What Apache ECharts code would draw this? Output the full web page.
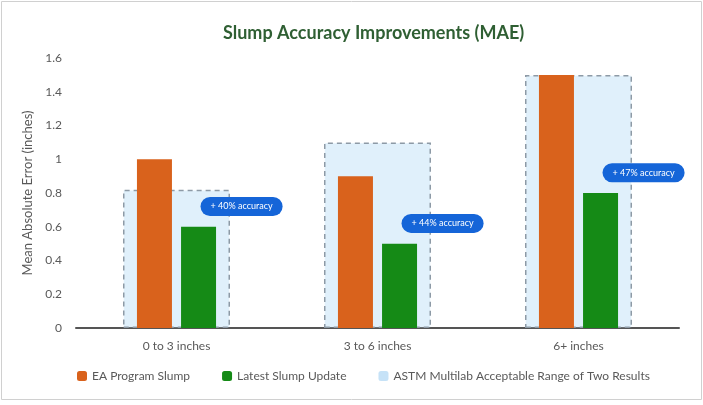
<!DOCTYPE html>
<html>
<head>
<meta charset="utf-8">
<script src="https://cdn.jsdelivr.net/npm/echarts@6/dist/echarts.min.js"></script>
<style>html,body{margin:0;padding:0;background:#fff}#main{width:703px;height:405px}</style>
</head>
<body>
<div id="main"></div>
<script>
var categories = ['0 to 3 inches', '3 to 6 inches', '6+ inches'];
var eaProgram = [1.0, 0.9, 1.5];
var latestUpdate = [0.6, 0.5, 0.8];
var astmRange = [0.82, 1.1, 1.5];
var badgeLevel = [0.72, 0.62, 0.92];
var badgeText = ['+ 40% accuracy', '+ 44% accuracy', '+ 47% accuracy'];

var chart = echarts.init(document.getElementById('main'));

var badges = [];
for (var i = 0; i < categories.length; i++) {
    badges.push({coord: [categories[i], badgeLevel[i]], value: badgeText[i]});
}

var option = {
    textStyle: {fontFamily: 'Lato'},
    title: {
        text: 'Slump Accuracy Improvements (MAE)',
        left: 218,
        top: 19,
        textStyle: {color: '#2f5f33', fontSize: 18, fontWeight: 'bold', fontFamily: 'Lato'}
    },
    graphic: [{
        type: 'rect',
        shape: {x: 1.5, y: 1.5, width: 700, height: 398},
        style: {fill: 'none', stroke: '#d0d0d0', lineWidth: 1}
    }],
    legend: {
        bottom: 18,
        left: 72,
        itemWidth: 10,
        itemHeight: 10,
        itemGap: 32,
        textStyle: {color: '#595959', fontSize: 12},
        data: [
            {name: 'EA Program Slump'},
            {name: 'Latest Slump Update'},
            {name: 'ASTM Multilab Acceptable Range of Two Results', itemStyle: {borderWidth: 0, color: '#c6e2f7'}}
        ]
    },
    grid: {left: 76, right: 24, top: 58, bottom: 77},
    xAxis: [{
        type: 'category',
        data: categories,
        axisLine: {lineStyle: {color: '#555', width: 2}},
        axisTick: {show: false},
        axisLabel: {color: '#595959', fontSize: 12, margin: 12}
    }, {
        type: 'category',
        data: categories,
        show: false
    }],
    yAxis: {
        type: 'value',
        min: 0,
        max: 1.6,
        interval: 0.2,
        name: 'Mean Absolute Error (inches)',
        nameLocation: 'middle',
        nameGap: 40,
        nameTextStyle: {color: '#595959', fontSize: 13},
        splitLine: {show: false},
        axisLine: {show: false},
        axisTick: {show: false},
        axisLabel: {color: '#595959', fontSize: 12, margin: 14}
    },
    series: [{
        name: 'ASTM Multilab Acceptable Range of Two Results',
        type: 'bar',
        xAxisIndex: 0,
        barWidth: 107,
        itemStyle: {color: 'rgba(214,235,250,0.75)', borderColor: '#8d9aa6', borderWidth: 1.5, borderType: [5, 4]},
        data: astmRange,
        z: 1
    }, {
        name: 'EA Program Slump',
        type: 'bar',
        xAxisIndex: 1,
        barWidth: 35,
        barGap: '26%',
        itemStyle: {color: '#d9621c'},
        data: eaProgram,
        z: 2
    }, {
        name: 'Latest Slump Update',
        type: 'bar',
        xAxisIndex: 1,
        barWidth: 35,
        itemStyle: {color: '#158a16'},
        data: latestUpdate,
        z: 2,
        markPoint: {
            symbol: 'rect',
            symbolSize: 0,
            z: 5,
            label: {
                show: true,
                formatter: '{c}',
                offset: [43, 0],
                color: '#fff',
                fontSize: 9,
                backgroundColor: '#1565d8',
                borderRadius: 10,
                padding: [5, 10]
            },
            data: badges
        }
    }]
};

chart.setOption(option);
</script>
</body>
</html>
